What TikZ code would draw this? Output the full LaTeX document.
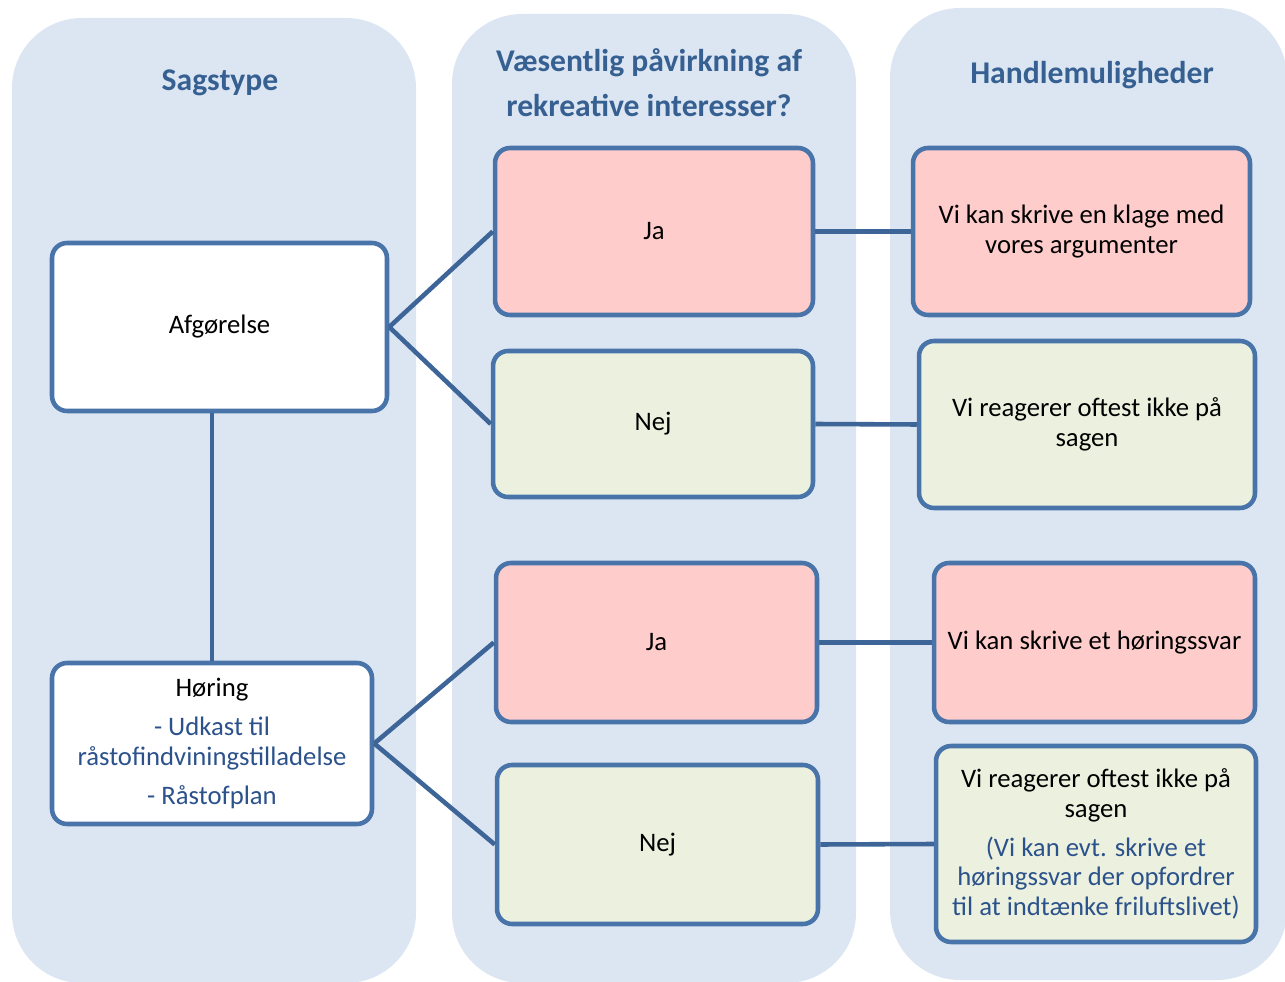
\documentclass[tikz,border=0pt]{standalone}
\usepackage{fontspec}
\setmainfont{Carlito}
\usepackage{xcolor}
\usepackage{tikz}
\usetikzlibrary{positioning}

\definecolor{colbg}{RGB}{220,230,242}
\definecolor{boxline}{RGB}{72,116,170}
\definecolor{linkblue}{RGB}{62,101,152}
\definecolor{titleblue}{RGB}{54,96,146}
\definecolor{noteblue}{RGB}{44,82,140}
\definecolor{yespink}{RGB}{255,204,204}
\definecolor{nogreen}{RGB}{235,241,222}

\begin{document}
\begin{tikzpicture}[x=0.02cm, y=-0.02cm,
    column/.style={fill=colbg, rounded corners=1.4cm},
    title/.style={font=\fontsize{18}{25.5}\selectfont\bfseries, text=titleblue, align=center},
    case/.style={rectangle, draw=boxline, line width=2.6pt, rounded corners=0.3cm, fill=white, align=center, font=\fontsize{15.2}{17}\selectfont},
    yes/.style={case, fill=yespink},
    no/.style={case, fill=nogreen},
    link/.style={draw=linkblue, line width=2.6pt}]

    \useasboundingbox (0,0) rectangle (1285,982);

    % Columns
    \begin{scope}
        \clip (0,0) rectangle (1285,982);
        \fill [column] (12,18) rectangle (416,983);
        \fill [column] (452,14) rectangle (856,983);
        \fill [column] (890,8) rectangle (1287,980);
    \end{scope}

    \node [title] (ttype) at (220,83) {Sagstype};
    \node [title] (tpaav) at (649,83) {Væsentlig påvirkning af\\rekreative interesser?};
    \node [title] (thandle) at (1092,75) {Handlemuligheder};

    % Case types
    \node [case, minimum width=6.7cm, minimum height=3.36cm] (afg) at (219.5,327) {Afgørelse};
    \node [case, minimum width=6.4cm, minimum height=3.22cm] (hor) at (212,743.5)
        {Høring\\[5pt]\textcolor{noteblue}{- Udkast til}\\\textcolor{noteblue}{råstofindviningstilladelse}\\[5pt]\textcolor{noteblue}{- Råstofplan}};

    % Answers
    \node [yes, minimum width=6.36cm, minimum height=3.34cm] (ja1) at (654,231.5) {Ja};
    \node [no, minimum width=6.4cm, minimum height=2.92cm] (nej1) at (653,424) {Nej};
    \node [yes, minimum width=6.42cm, minimum height=3.18cm] (ja2) at (656.5,642.5) {Ja};
    \node [no, minimum width=6.42cm, minimum height=3.18cm] (nej2) at (657.5,844.5) {Nej};

    % Options
    \node [yes, minimum width=6.74cm, minimum height=3.34cm] (klage) at (1081.5,231.5) {Vi kan skrive en klage med\\vores argumenter};
    \node [no, minimum width=6.72cm, minimum height=3.34cm] (ikke1) at (1087,424.5) {Vi reagerer oftest ikke på\\sagen};
    \node [yes, minimum width=6.42cm, minimum height=3.18cm] (svar) at (1094.5,642.5) {Vi kan skrive et høringssvar};
    \node [no, minimum width=6.4cm, minimum height=3.92cm] (ikke2) at (1096,844)
        {Vi reagerer oftest ikke på\\sagen\\[5pt]\textcolor{noteblue}{(Vi kan evt. skrive et}\\\textcolor{noteblue}{høringssvar der opfordrer}\\\textcolor{noteblue}{til at indtænke friluftslivet)}};

    % Connectors
    \draw [link] (afg.east) -- (ja1.west);
    \draw [link] (afg.east) -- (nej1.west);
    \draw [link] (afg.south -| hor.north) -- (hor.north);
    \draw [link] (hor.east) -- (ja2.west);
    \draw [link] (hor.east) -- (nej2.west);
    \draw [link] (ja1.east) -- (klage.west);
    \draw [link] (nej1.east) -- (ikke1.west);
    \draw [link] (ja2.east) -- (svar.west);
    \draw [link] (nej2.east) -- (ikke2.west);
\end{tikzpicture}
\end{document}
